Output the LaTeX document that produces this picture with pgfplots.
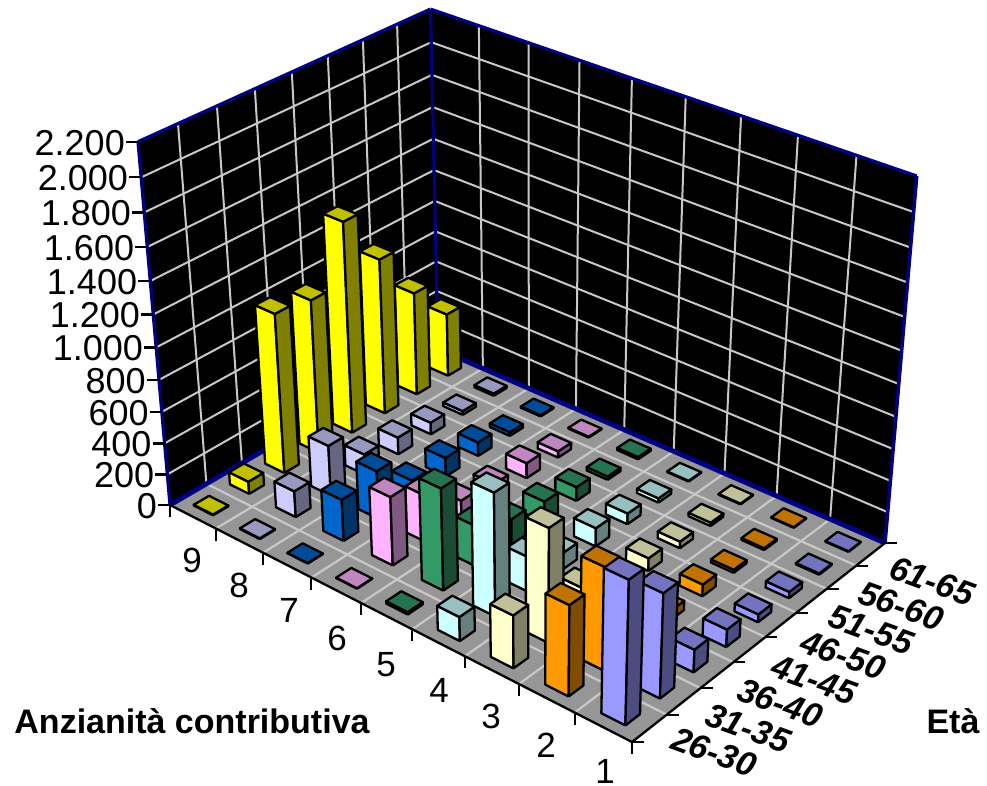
\documentclass[border=0pt]{standalone}
\usepackage{pgfplots}
\usepackage{pgfplotstable}
\usepackage{fontspec}
\setmainfont{Liberation Sans}
\pgfplotsset{compat=1.18}

% Counts by length of contribution (rows) and age band (columns)
\pgfplotstableread{
t  a1   a2   a3   a4   a5   a6   a7  a8
1  870  640  142  110  50   40   8   4
2  557  632  250  60   75   20   12  4
3  328  708  190  100  82   43   22  5
4  151  766  221  105  118  70   28  5
5  15   640  259  164  136  90   22  15
6  3    435  300  130  100  99   42  6
7  3    265  309  110  122  90   25  8
8  5    168  325  134  111  78   25  15
9  5    80   1021 986  1358 1010 676 417
}\barvalues

% Face colours of each row of bars: front, side, top
\definecolor{front1}{HTML}{9999FF}\definecolor{side1}{HTML}{4C4C80}\definecolor{top1}{HTML}{7373C0}
\definecolor{front2}{HTML}{FF9900}\definecolor{side2}{HTML}{804C00}\definecolor{top2}{HTML}{C07300}
\definecolor{front3}{HTML}{FFFFCC}\definecolor{side3}{HTML}{808066}\definecolor{top3}{HTML}{C0C099}
\definecolor{front4}{HTML}{CCFFFF}\definecolor{side4}{HTML}{668080}\definecolor{top4}{HTML}{99C0C0}
\definecolor{front5}{HTML}{339966}\definecolor{side5}{HTML}{1A4C33}\definecolor{top5}{HTML}{267350}
\definecolor{front6}{HTML}{FFB3FF}\definecolor{side6}{HTML}{805980}\definecolor{top6}{HTML}{C086C0}
\definecolor{front7}{HTML}{0066CC}\definecolor{side7}{HTML}{003366}\definecolor{top7}{HTML}{004C99}
\definecolor{front8}{HTML}{CCCCFF}\definecolor{side8}{HTML}{666680}\definecolor{top8}{HTML}{9999C0}
\definecolor{front9}{HTML}{FFFF00}\definecolor{side9}{HTML}{808000}\definecolor{top9}{HTML}{C0C000}
\definecolor{wallnavy}{HTML}{000080}
\definecolor{floorgray}{HTML}{969696}
\definecolor{gridgray}{HTML}{C8C8C8}

% Central projection of the unit box onto the drawing plane
\pgfmathdeclarefunction{pX}{3}{\pgfmathparse{(632-439.22*#1+353.80*#2-49*#3)/(1+0.134*#1+0.1139*#2-0.092*#3)}}
\pgfmathdeclarefunction{pY}{3}{\pgfmathparse{(742-169.33*#1-137.15*#2-425*#3)/(1+0.134*#1+0.1139*#2-0.092*#3)}}

% \pt{name}{x}{y}{z} stores the projected point as \name
\newcommand\pt[4]{%
  \pgfmathsetmacro\ptx{pX(#2,#3,#4)}%
  \pgfmathsetmacro\pty{pY(#2,#3,#4)}%
  \expandafter\edef\csname #1\endcsname{(\ptx,\pty)}}

% \seg{options}{x1}{y1}{z1}{x2}{y2}{z2} draws a straight segment in box coordinates
\newcommand\seg[7]{%
  \pt{Sa}{#2}{#3}{#4}\pt{Sb}{#5}{#6}{#7}%
  \edef\temp{\noexpand\addplot[#1] coordinates {\Sa \Sb};}\temp}

% \quadface{options}{p1}{p2}{p3}{p4} fills a four-sided face
\newcommand\quadface[5]{%
  \edef\temp{\noexpand\addplot[#1,line join=round] coordinates {#2 #3 #4 #5 #2};}\temp}

\begin{document}
\begin{tikzpicture}
\path[use as bounding box] (0,0) rectangle (987pt,786pt);
\begin{axis}[
  at={(0,0)},anchor=south west,
  scale only axis,width=987pt,height=786pt,
  xmin=0,xmax=987,ymin=0,ymax=786,y dir=reverse,
  hide axis,clip=false,
]
% Walls and floor
\pt{Fa}{1}{0}{0}\pt{Fb}{1}{1}{0}\pt{Fc}{0}{1}{0}\pt{Fd}{0}{0}{0}
\pt{Ta}{1}{0}{1}\pt{Tb}{1}{1}{1}\pt{Tc}{0}{1}{1}
\quadface{fill=black,draw=none}{\Fa}{\Ta}{\Tb}{\Fb}
\quadface{fill=black,draw=none}{\Fb}{\Tb}{\Tc}{\Fc}
\quadface{fill=floorgray,draw=none}{\Fa}{\Fb}{\Fc}{\Fd}

% Grid on the walls and the floor
\foreach \k in {1,...,7}{
  \pgfmathsetmacro\u{\k/8}
  \seg{gridgray,line width=2pt}{1}{\u}{0}{1}{\u}{1}
  \seg{gridgray,line width=2.2pt}{0}{\u}{0}{1}{\u}{0}
}
\foreach \k in {1,...,8}{
  \pgfmathsetmacro\u{\k/9}
  \seg{gridgray,line width=2pt}{\u}{1}{0}{\u}{1}{1}
  \seg{gridgray,line width=2.2pt}{\u}{0}{0}{\u}{1}{0}
}
\foreach \k in {1,...,10}{
  \pgfmathsetmacro\u{\k/11}
  \seg{gridgray,line width=2pt}{1}{0}{\u}{1}{1}{\u}
  \seg{gridgray,line width=2pt}{1}{1}{\u}{0}{1}{\u}
}

% Wall outlines
\seg{wallnavy,line width=4.8pt}{1}{0}{0}{1}{1}{0}
\seg{wallnavy,line width=4.8pt}{1}{1}{0}{0}{1}{0}
\seg{wallnavy,line width=3.2pt}{1}{0}{0}{1}{0}{1}
\seg{wallnavy,line width=3.2pt}{1}{0}{1}{1}{1}{1}
\seg{wallnavy,line width=3.2pt}{1}{1}{1}{1}{1}{0}
\seg{wallnavy,line width=3.2pt}{1}{1}{1}{0}{1}{1}
\seg{wallnavy,line width=3.6pt}{0}{1}{1}{0}{1}{0}

% Front edges of the floor
\seg{black,line width=2.3pt,line cap=round}{1}{0}{0}{0}{0}{0}
\seg{black,line width=2.3pt,line cap=round}{0}{0}{0}{0}{1}{0}

% Tick marks: height scale, contribution rows, age bands
\foreach \k in {0,...,11}{
  \pgfmathsetmacro\u{\k/11}
  \pgfmathsetmacro\ax{pX(1,0,\u)}\pgfmathsetmacro\ay{pY(1,0,\u)}
  \pgfmathsetmacro\bx{\ax-12}
  \edef\temp{\noexpand\addplot[black,line width=2.2pt] coordinates {(\ax,\ay) (\bx,\ay)};}\temp
}
\foreach \k in {0,...,9}{
  \pgfmathsetmacro\u{\k/9}
  \pgfmathsetmacro\ax{pX(\u,0,0)}\pgfmathsetmacro\ay{pY(\u,0,0)}
  \pgfmathsetmacro\by{\ay+12}
  \edef\temp{\noexpand\addplot[black,line width=2.2pt] coordinates {(\ax,\ay) (\ax,\by)};}\temp
}
\foreach \k in {0,...,8}{
  \pgfmathsetmacro\u{\k/8}
  \pgfmathsetmacro\ax{pX(0,\u,0)}\pgfmathsetmacro\ay{pY(0,\u,0)}
  \pgfmathsetmacro\bx{\ax+12}
  \edef\temp{\noexpand\addplot[black,line width=2.2pt] coordinates {(\ax,\ay) (\bx,\ay)};}\temp
}

% Bars, from the far corner of the floor to the near one
\foreach \t in {9,8,...,1}{
  \foreach \a in {8,7,...,1}{
    \pgfmathtruncatemacro\row{\t-1}
    \pgfplotstablegetelem{\row}{a\a}\of\barvalues
    \pgfmathsetmacro\zz{\pgfplotsretval/2200}
    \pgfmathsetmacro\xa{(\t-0.5-0.21)/9}
    \pgfmathsetmacro\xb{(\t-0.5+0.21)/9}
    \pgfmathsetmacro\ya{(\a-0.5-0.21)/8}
    \pgfmathsetmacro\yb{(\a-0.5+0.21)/8}
    \pt{FT}{\xa}{\ya}{\zz}\pt{LT}{\xb}{\ya}{\zz}\pt{RT}{\xa}{\yb}{\zz}\pt{BT}{\xb}{\yb}{\zz}
    \pt{FB}{\xa}{\ya}{0}\pt{LB}{\xb}{\ya}{0}\pt{RB}{\xa}{\yb}{0}
    \quadface{fill=front\t,draw=black,line width=2.3pt}{\FB}{\LB}{\LT}{\FT}
    \quadface{fill=side\t,draw=black,line width=2.3pt}{\FB}{\RB}{\RT}{\FT}
    \quadface{fill=top\t,draw=black,line width=2.3pt}{\FT}{\LT}{\BT}{\RT}
  }
}

% Scale labels
\foreach \lab/\k in {0/0,200/1,400/2,600/3,800/4,1.000/5,1.200/6,1.400/7,1.600/8,1.800/9,2.000/10,2.200/11}{
  \pgfmathsetmacro\u{\k/11}
  \pgfmathsetmacro\ax{pX(1,0,\u)-13}\pgfmathsetmacro\ay{pY(1,0,\u)+1}
  \edef\temp{\noexpand\node[anchor=east,inner sep=0pt,font=\noexpand\fontsize{36}{36}\noexpand\selectfont] at (axis cs:\ax,\ay) {\lab};}\temp
}

% Contribution rows
\foreach \lab/\x/\y in {9/192/560,8/239/585,7/289/610,6/337/638,5/386/665,4/439/690,3/491/716,2/546/745,1/605/771}{
  \edef\temp{\noexpand\node[inner sep=0pt,font=\noexpand\fontsize{35}{35}\noexpand\selectfont] at (axis cs:\x,\y) {\lab};}\temp
}

% Age bands
\foreach \lab/\x/\y in {26-30/714/752,31-35/748/728,36-40/780/703,41-45/814/680,46-50/843/655,51-55/871/630,56-60/901/606,61-65/932/581}{
  \edef\temp{\noexpand\node[inner sep=0pt,rotate=-20,font=\noexpand\fontsize{34}{34}\noexpand\selectfont\noexpand\bfseries\noexpand\itshape] at (axis cs:\x,\y) {\lab};}\temp
}

% Axis names
\node[inner sep=0pt,font=\fontsize{34}{34}\selectfont\bfseries] at (axis cs:192,721) {Anzianità contributiva};
\node[inner sep=0pt,font=\fontsize{34}{34}\selectfont\bfseries] at (axis cs:953,721) {Età};
\end{axis}
\end{tikzpicture}
\end{document}
